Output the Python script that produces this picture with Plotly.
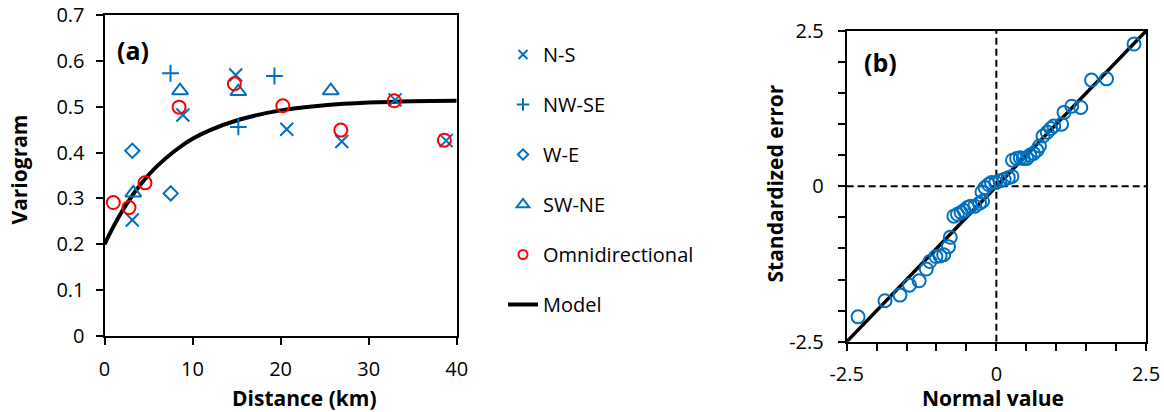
import plotly.graph_objects as go

# ---------------- Panel (a): variogram data ----------------
ns_dist = [3.16, 8.9, 14.9, 20.7, 26.95, 33.0, 38.8]
ns_gamma = [0.253, 0.482, 0.569, 0.451, 0.424, 0.515, 0.426]

nwse_dist = [7.5, 15.2, 19.3]
nwse_gamma = [0.573, 0.456, 0.567]

we_dist = [3.16, 7.52]
we_gamma = [0.404, 0.311]

swne_dist = [3.27, 8.58, 15.2, 25.7]
swne_gamma = [0.312, 0.535, 0.533, 0.535]

omni_dist = [1.0, 2.78, 4.6, 8.47, 14.75, 20.25, 26.84, 32.9, 38.6]
omni_gamma = [0.291, 0.280, 0.334, 0.499, 0.550, 0.502, 0.449, 0.513, 0.427]

model_dist = [0, 1, 2, 3, 4, 5, 6, 8, 10, 12, 15, 20, 25, 30, 35, 40]
model_gamma = [0.200, 0.238, 0.272, 0.302, 0.328, 0.351, 0.371, 0.404, 0.430,
               0.449, 0.470, 0.492, 0.503, 0.509, 0.512, 0.513]

# ---------------- Panel (b): QQ data ----------------
normal_value = [-2.31, -1.86, -1.61, -1.45, -1.29, -1.17, -1.11, -1.01, -0.94, -0.88,
                -0.80, -0.77, -0.71, -0.65, -0.59, -0.54, -0.48, -0.43, -0.36, -0.28,
                -0.23, -0.24, -0.19, -0.13, -0.08, -0.01, 0.06, 0.13, 0.20, 0.26,
                0.27, 0.34, 0.40, 0.45, 0.51, 0.56, 0.62, 0.68, 0.72, 0.78,
                0.85, 0.91, 0.96, 1.09, 1.13, 1.26, 1.41, 1.59, 1.84, 2.30]
std_error = [-2.10, -1.84, -1.75, -1.59, -1.52, -1.33, -1.21, -1.13, -1.12, -1.10,
             -0.97, -0.82, -0.48, -0.45, -0.42, -0.39, -0.34, -0.32, -0.32, -0.27,
             -0.24, -0.09, -0.02, 0.03, 0.06, 0.06, 0.09, 0.11, 0.14, 0.16,
             0.42, 0.45, 0.46, 0.45, 0.45, 0.50, 0.53, 0.58, 0.65, 0.81,
             0.87, 0.93, 0.97, 1.00, 1.19, 1.29, 1.27, 1.71, 1.73, 2.29]
ref_line = [-2.5, 2.5]

BLUE = "#0070C0"
RED = "#FF0000"
FONT = "Open Sans"
W, H = 1164, 412

fig = go.Figure()

# Model curve
fig.add_trace(go.Scatter(x=model_dist, y=model_gamma, mode="lines", line_shape="spline",
                         line=dict(color="black", width=4), showlegend=False,
                         xaxis="x", yaxis="y"))

series = [
    ("N-S", ns_dist, ns_gamma, "x-thin-open", BLUE, 13, 9),
    ("NW-SE", nwse_dist, nwse_gamma, "cross-thin-open", BLUE, 12, 9),
    ("W-E", we_dist, we_gamma, "diamond-open", BLUE, 11, 8),
    ("SW-NE", swne_dist, swne_gamma, "triangle-up-open", BLUE, 14, 11),
    ("Omnidirectional", omni_dist, omni_gamma, "circle-open", RED, 13, 9),
]
for name, xs, ys, sym, col, sz, lsz in series:
    fig.add_trace(go.Scatter(x=xs, y=ys, mode="markers", name=name, showlegend=False,
                             marker=dict(symbol=sym, size=sz, color=col,
                                         line=dict(color=col, width=2)),
                             xaxis="x", yaxis="y"))

# legend entries (smaller symbols as in the reference legend)
for i, (name, xs, ys, sym, col, sz, lsz) in enumerate(series):
    fig.add_trace(go.Scatter(x=[None], y=[None], mode="markers", name=name,
                             legendgroup=f"g{i}",
                             marker=dict(symbol=sym, size=lsz, color=col,
                                         line=dict(color=col, width=2)),
                             xaxis="x", yaxis="y"))
fig.add_trace(go.Scatter(x=[None], y=[None], mode="lines", name="Model", legendgroup="g5",
                         line=dict(color="black", width=4), xaxis="x", yaxis="y"))

# Panel (b)
fig.add_trace(go.Scatter(x=ref_line, y=ref_line, mode="lines", showlegend=False,
                         line=dict(color="black", width=3.5), xaxis="x2", yaxis="y2"))
fig.add_trace(go.Scatter(x=normal_value, y=std_error, mode="markers", showlegend=False,
                         marker=dict(symbol="circle-open", size=13, color=BLUE,
                                     line=dict(color=BLUE, width=2)),
                         xaxis="x2", yaxis="y2"))

fig.add_shape(type="line", xref="x2", yref="y2", x0=0, x1=0, y0=-2.5, y1=2.5,
              line=dict(color="black", width=2, dash="7px,4px"), layer="below")
fig.add_shape(type="line", xref="x2", yref="y2", x0=-2.5, x1=2.5, y0=0, y1=0,
              line=dict(color="black", width=2, dash="7px,4px"), layer="below")

axis_common = dict(showline=True, linecolor="black", linewidth=2, mirror=True,
                   ticks="outside", ticklen=7, tickwidth=2, tickcolor="black",
                   showgrid=False, zeroline=False, automargin=False,
                   tickfont=dict(family=FONT, size=20, color="black"))

bticks = [-2.5, -2.0, -1.5, -1.0, -0.5, 0, 0.5, 1.0, 1.5, 2.0, 2.5]
bticktext = ["-2.5", "", "", "", "", "0", "", "", "", "", "2.5"]

fig.update_layout(
    width=W, height=H,
    margin=dict(l=0, r=0, t=0, b=0, pad=0),
    paper_bgcolor="white", plot_bgcolor="white",
    font=dict(family=FONT, size=18, color="black"),
    xaxis=dict(domain=[104.5 / W, 456.7 / W], range=[0, 40], dtick=10,
               anchor="y", ticklabelstandoff=7, **axis_common),
    yaxis=dict(domain=[1 - 336 / H, 1 - 15 / H], range=[0, 0.7], dtick=0.1,
               anchor="x", ticklabelstandoff=7, **axis_common),
    xaxis2=dict(domain=[846.7 / W, 1146 / W], range=[-2.5, 2.5], tickmode="array",
                tickvals=bticks, ticktext=bticktext, anchor="y2",
                ticklabelstandoff=6, **axis_common),
    yaxis2=dict(domain=[1 - 341.7 / H, 1 - 31 / H], range=[-2.5, 2.5], tickmode="array",
                tickvals=bticks, ticktext=bticktext, anchor="x2",
                ticklabelstandoff=10, **axis_common),
    legend=dict(x=503 / W, y=1 - 35 / H, xanchor="left", yanchor="top",
                traceorder="grouped", tracegroupgap=21,
                font=dict(family=FONT, size=20, color="black"),
                bgcolor="rgba(0,0,0,0)"),
    showlegend=True,
)

bold = dict(family=FONT, size=21, color="black", weight="bold")
annos = [
    dict(text="Variogram", x=18 / W, y=1 - 169.5 / H, textangle=-90, font=bold),
    dict(text="Distance (km)", x=304 / W, y=1 - 397.5 / H, font=bold),
    dict(text="Standardized error", x=774 / W, y=1 - 183.5 / H, textangle=-90, font=bold),
    dict(text="Normal value", x=992.5 / W, y=1 - 397.5 / H, font=bold),
    dict(text="(a)", x=133 / W, y=1 - 49.5 / H,
         font=dict(family=FONT, size=25, color="black", weight="bold")),
    dict(text="(b)", x=880 / W, y=1 - 62 / H,
         font=dict(family=FONT, size=25, color="black", weight="bold")),
]
for a in annos:
    fig.add_annotation(xref="paper", yref="paper", xanchor="center", yanchor="middle",
                       showarrow=False, **a)

fig.write_html("out.html", config={"displayModeBar": False},
               post_script="document.body.style.margin='0';document.body.style.overflow='hidden';")
